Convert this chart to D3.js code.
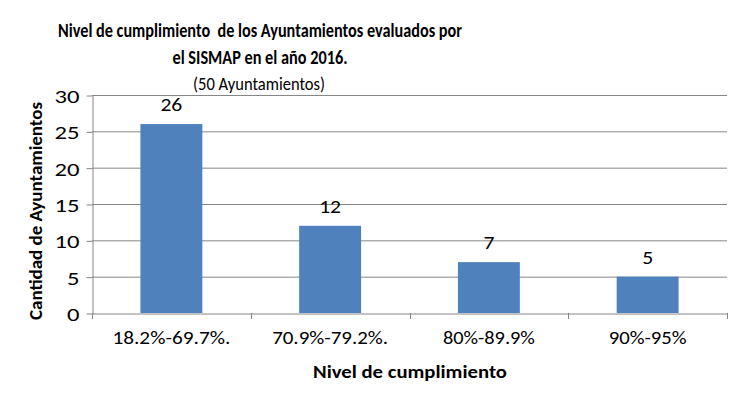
<!DOCTYPE html>
<html>
<head>
<meta charset="utf-8">
<script src="https://cdn.jsdelivr.net/npm/d3@7"></script>
<style>
  html, body { margin: 0; padding: 0; background: #fff; }
  svg { display: block; }
  text { font-family: Carlito, Calibri, Lato, "Open Sans", sans-serif; fill: #000; white-space: pre; }
</style>
</head>
<body>
<svg id="chart" width="741" height="397"></svg>
<script>
// ---- data ----
const categories = ["18.2%-69.7%.", "70.9%-79.2%.", "80%-89.9%", "90%-95%"];
const values = [26, 12, 7, 5];
const yTicks = [0, 5, 10, 15, 20, 25, 30];
const titleLines = ["Nivel de cumplimiento  de los Ayuntamientos evaluados por", "el SISMAP en el año 2016."];
const subtitle = "(50 Ayuntamientos)";
const xTitle = "Nivel de cumplimiento";
const yTitle = "Cantidad de Ayuntamientos";

// ---- layout ----
const plot = { left: 92, right: 727, top: 95, bottom: 313 };
const svg = d3.select("#chart");

const x = d3.scaleBand().domain(categories).range([plot.left, plot.right]).paddingInner(0.61).paddingOuter(0.305);
const xc = d3.scaleBand().domain(categories).range([plot.left, plot.right]);
const y = d3.scaleLinear().domain([0, 30]).range([plot.bottom, plot.top]);

function fit(sel, len) {
  sel.attr("textLength", len).attr("lengthAdjust", "spacingAndGlyphs");
}

// gridlines
svg.append("g").selectAll("line").data(yTicks.filter(t => t > 0)).join("line")
  .attr("x1", plot.left).attr("x2", plot.right)
  .attr("y1", d => y(d) + 0.5).attr("y2", d => y(d) + 0.5)
  .attr("stroke", "#868686").attr("stroke-width", 1);

// bars
svg.append("g").selectAll("rect").data(values).join("rect")
  .attr("x", (d, i) => x(categories[i]))
  .attr("width", x.bandwidth())
  .attr("y", d => y(d))
  .attr("height", d => y(0) - y(d))
  .attr("fill", "#4F81BD");

// y axis
const yAxis = svg.append("g").attr("transform", `translate(${plot.left + 0.5},0.5)`)
  .call(d3.axisLeft(y).tickValues(yTicks).tickSize(6).tickSizeOuter(0).tickPadding(7));
yAxis.select(".domain").attr("stroke", "#868686");
yAxis.selectAll(".tick line").attr("stroke", "#868686");
yAxis.selectAll(".tick text").attr("font-size", 19).attr("font-family", null).attr("dy", "0.36em")
  .each(function(d) { fit(d3.select(this), String(d).length * 12.5); });

// x axis
const xAxis = svg.append("g").attr("transform", `translate(0.5,${plot.bottom + 0.5})`)
  .call(d3.axisBottom(xc).tickSize(0).tickPadding(0));
xAxis.select(".domain").attr("stroke", "#868686");
xAxis.selectAll(".tick text").remove();
// category boundary ticks
const bounds = categories.map(c => xc(c)).concat([plot.right]);
svg.append("g").selectAll("line").data(bounds).join("line")
  .attr("x1", d => Math.round(d) + 0.5).attr("x2", d => Math.round(d) + 0.5)
  .attr("y1", plot.bottom).attr("y2", plot.bottom + 6)
  .attr("stroke", "#868686");
const catLens = [118, 116, 92, 78];
svg.append("g").selectAll("text").data(categories).join("text")
  .attr("x", d => xc(d) + xc.bandwidth() / 2)
  .attr("y", 344)
  .attr("text-anchor", "middle")
  .attr("font-size", 19)
  .text(d => d)
  .each(function(d, i) { fit(d3.select(this), catLens[i]); });

// data labels
svg.append("g").selectAll("text").data(values).join("text")
  .attr("x", (d, i) => x(categories[i]) + x.bandwidth() / 2)
  .attr("y", d => y(d) - 13)
  .attr("text-anchor", "middle")
  .attr("font-size", 18.5)
  .text(d => d)
  .each(function(d) { fit(d3.select(this), String(d).length * 11); });

// titles
const tl = [404, 175];
const tb = [37, 64];
titleLines.forEach((t, i) => {
  svg.append("text").attr("x", 260).attr("y", tb[i]).attr("text-anchor", "middle")
    .attr("font-size", 20.5).attr("font-weight", "bold").text(t)
    .call(s => fit(s, tl[i]));
});
svg.append("text").attr("x", 259).attr("y", 90).attr("text-anchor", "middle")
  .attr("font-size", 19).text(subtitle).call(s => fit(s, 132));

svg.append("text").attr("x", 410).attr("y", 378).attr("text-anchor", "middle")
  .attr("font-size", 18.5).attr("font-weight", "bold").text(xTitle).call(s => fit(s, 194));

svg.append("text").attr("transform", "translate(42,211) rotate(-90)").attr("text-anchor", "middle")
  .attr("font-size", 17.5).attr("font-weight", "bold").text(yTitle).call(s => fit(s, 218));
</script>
</body>
</html>
